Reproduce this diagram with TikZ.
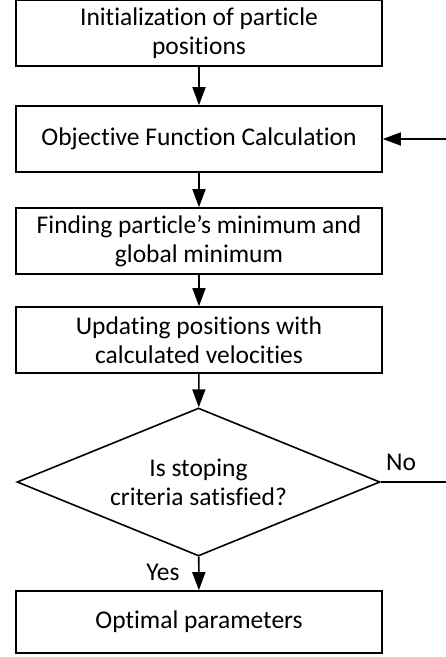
\documentclass[tikz,border=0pt]{standalone}
\usepackage{fontspec}
\setmainfont{Carlito}[Ligatures=NoCommon]
\usetikzlibrary{shapes.geometric,arrows.meta}
\begin{document}
\begin{tikzpicture}[x=1pt,y=-1pt,
  font=\fontsize{25.5}{29}\selectfont,
  stepbox/.style={draw,line width=1.6pt,minimum width=366pt,minimum height=66pt,inner sep=0pt,align=center},
  decision/.style={draw,diamond,line width=1.6pt,minimum width=363pt,minimum height=148pt,inner sep=0pt,shape aspect=2.45,align=center},
  arrow/.style={line width=1.6pt,-{Triangle[length=18pt,width=13pt]}}]
\useasboundingbox (0,0) rectangle (446,657);
%\draw[step=10pt,gray,very thin] (0,0) grid (446,657);
\node[stepbox] (init) at (199,33) {Initialization of particle\\positions};
\node[stepbox] (objective) at (199,139) {Objective Function Calculation};
\node[stepbox] (best) at (199,241) {Finding particle’s minimum and\\global minimum};
\node[stepbox] (update) at (199,340) {Updating positions with\\calculated velocities};
\node[decision] (stop) at (198.5,482) {Is stoping\\criteria satisfied?};
\node[stepbox,minimum height=62pt] (optimal) at (199,622) {Optimal parameters};
\coordinate (backin) at (446,139);
\coordinate (backout) at (446,482);
\draw [arrow] (init) -- (objective);
\draw [arrow] (objective) -- (best);
\draw [arrow] (best) -- (update);
\draw [arrow] (update) -- (stop);
\draw [arrow] (stop) -- (optimal);
\draw [line width=1.6pt] (stop.east) -- (backout);
\draw [arrow] (backin) -- (objective.east);
\node[] (no) at (401,462) {No};
\node[] (yes) at (163,572) {Yes};
\end{tikzpicture}
\end{document}
